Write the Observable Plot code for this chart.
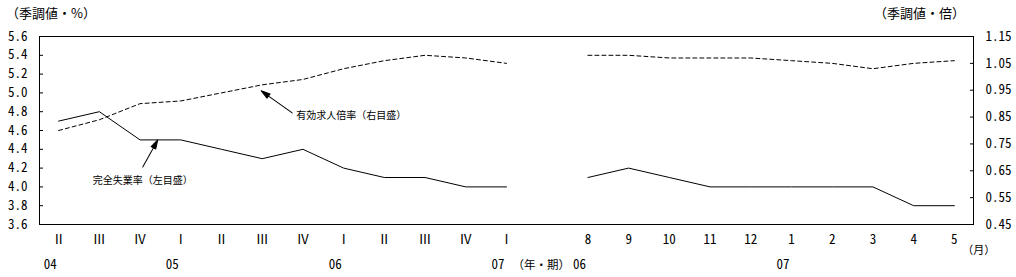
<!DOCTYPE html>
<html><head><meta charset="utf-8">
<script src="https://cdn.jsdelivr.net/npm/d3@7"></script>
<script src="https://cdn.jsdelivr.net/npm/@observablehq/plot@0.6"></script>
<style>
html,body{margin:0;padding:0;background:#fff;}
#wrap{position:relative;width:1016px;height:277px;font-family:"Noto Sans CJK JP",sans-serif;color:#000;}
#head{position:relative;height:28px;}
.unit{position:absolute;top:4px;font-size:13px;line-height:18px;white-space:nowrap;}
#chart svg{display:block;}
</style></head><body>
<div id="wrap">
  <div id="head"><span class="unit" style="left:6px">（季調値・%）</span><span class="unit" style="right:51px">（季調値・倍）</span></div>
  <div id="chart"></div>
</div>
<script>
// ---- data ----
const quarterLabels = ["Ⅱ","Ⅲ","Ⅳ","Ⅰ","Ⅱ","Ⅲ","Ⅳ","Ⅰ","Ⅱ","Ⅲ","Ⅳ","Ⅰ"];
const quarterUnemp  = [4.7,4.8,4.5,4.5,4.4,4.3,4.4,4.2,4.1,4.1,4.0,4.0];
const quarterRatio  = [0.80,0.84,0.90,0.91,0.94,0.97,0.99,1.03,1.06,1.08,1.07,1.05];
const monthLabels = ["8","9","10","11","12","1","2","3","4","5"];
const monthUnemp  = [4.1,4.2,4.1,4.0,4.0,4.0,4.0,4.0,3.8,3.8];
const monthRatio  = [1.08,1.08,1.07,1.07,1.07,1.06,1.05,1.03,1.05,1.06];
const yearLabels = [{period:"q",k:0,label:"04"},{period:"q",k:3,label:"05"},{period:"q",k:7,label:"06"},{period:"q",k:11,label:"07"},{period:"m",k:0,label:"06"},{period:"m",k:5,label:"07"}];
const leftTicks  = [3.6,3.8,4.0,4.2,4.4,4.6,4.8,5.0,5.2,5.4,5.6];
const rightTicks = [0.45,0.55,0.65,0.75,0.85,0.95,1.05,1.15];
const unitPeriodLabel = "（年・期）";
const unitMonthLabel = "（月）";
const ratioNote = "有効求人倍率（右目盛）";
const unempNote = "完全失業率（左目盛）";

// ---- derived ----
const L0 = 3.6, L1 = 5.6, R0 = 0.45, R1 = 1.15;
const toLeft = v => L0 + (v - R0) * (L1 - L0) / (R1 - R0);
const fromLeft = v => R0 + (v - L0) * (R1 - R0) / (L1 - L0);
const monthOffset = quarterLabels.length + 1;
const qRows = quarterLabels.map((label, k) => ({i: k, label, unemp: quarterUnemp[k], ratio: quarterRatio[k]}));
const mRows = monthLabels.map((label, k) => ({i: monthOffset + k, label, unemp: monthUnemp[k], ratio: monthRatio[k]}));
const yRows = yearLabels.map(d => ({i: d.period === "q" ? d.k : monthOffset + d.k, label: d.label}));
const lastQ = qRows[qRows.length - 1], lastM = mRows[mRows.length - 1];

const numFont = '"Noto Sans Mono CJK JP","DejaVu Sans Mono",monospace';
const jpFont = '"Noto Sans CJK JP",sans-serif';

const headShape = {draw(ctx, l) {
  ctx.moveTo(0, 0); ctx.lineTo(0, -l + 6);
  ctx.moveTo(0, -l); ctx.lineTo(-2.6, -l + 9); ctx.lineTo(2.6, -l + 9); ctx.closePath();
}};

const plot = Plot.plot({
  width: 1016, height: 249,
  marginTop: 8, marginBottom: 53, marginLeft: 39, marginRight: 43,
  x: {type: "linear", domain: [-0.47, mRows[mRows.length-1].i + 0.47], axis: null, label: null},
  y: {domain: [L0, L1], axis: null, label: null},
  style: {background: "white", color: "black", fontFamily: numFont, fontSize: "13px", overflow: "visible"},
  marks: [
    Plot.frame({stroke: "black"}),
    Plot.axisY(leftTicks, {anchor: "left", label: null, tickSize: -4, tickPadding: 16, tickFormat: d3.format(".1f"), fontFamily: numFont, fontSize: 13}),
    Plot.axisY(rightTicks.map(toLeft), {anchor: "right", label: null, tickSize: -4, tickPadding: 16, tickFormat: d => fromLeft(d).toFixed(2), textAnchor: "start", fontFamily: numFont, fontSize: 13}),
    Plot.line(qRows, {x: "i", y: "unemp", stroke: "black", strokeWidth: 1}),
    Plot.line(mRows, {x: "i", y: "unemp", stroke: "black", strokeWidth: 1}),
    Plot.line(qRows, {x: "i", y: d => toLeft(d.ratio), stroke: "black", strokeWidth: 1, strokeDasharray: "4,3"}),
    Plot.line(mRows, {x: "i", y: d => toLeft(d.ratio), stroke: "black", strokeWidth: 1, strokeDasharray: "4,3"}),
    // x axis labels
    Plot.text(qRows, {x: "i", text: "label", frameAnchor: "bottom", dy: 19, fontFamily: jpFont, fontSize: 13}),
    Plot.text(mRows, {x: "i", text: "label", frameAnchor: "bottom", dy: 19, fontFamily: numFont, fontSize: 13}),
    Plot.text(yRows, {x: "i", text: "label", frameAnchor: "bottom", dy: 44, dx: -2, textAnchor: "end", fontFamily: numFont, fontSize: 13}),
    Plot.text([lastQ], {x: "i", text: () => unitPeriodLabel, frameAnchor: "bottom", dy: 44, dx: 6, textAnchor: "start", fontFamily: jpFont, fontSize: 11.5}),
    Plot.text([lastM], {x: "i", text: () => unitMonthLabel, frameAnchor: "bottom", dy: 29, dx: 8, textAnchor: "start", fontFamily: jpFont, fontSize: 11}),
    // annotations (anchored to data points)
    Plot.vector([qRows[5]], {x: "i", y: d => toLeft(d.ratio), dx: -1, dy: 6, anchor: "end", length: 38, rotate: -54.6, shape: headShape, stroke: "black", fill: "black", strokeWidth: 1}),
    Plot.text([qRows[5]], {x: "i", y: d => toLeft(d.ratio), text: () => ratioNote, dx: 34, dy: 31, textAnchor: "start", fontFamily: jpFont, fontSize: 10}),
    Plot.vector([qRows[3]], {x: "i", y: "unemp", dx: -23, dy: 0, anchor: "end", length: 31, rotate: 29, shape: headShape, stroke: "black", fill: "black", strokeWidth: 1}),
    Plot.text([qRows[3]], {x: "i", y: "unemp", text: () => unempNote, dx: -88, dy: 41, textAnchor: "start", fontFamily: jpFont, fontSize: 10})
  ]
});
document.getElementById("chart").appendChild(plot);
</script>
</body></html>
